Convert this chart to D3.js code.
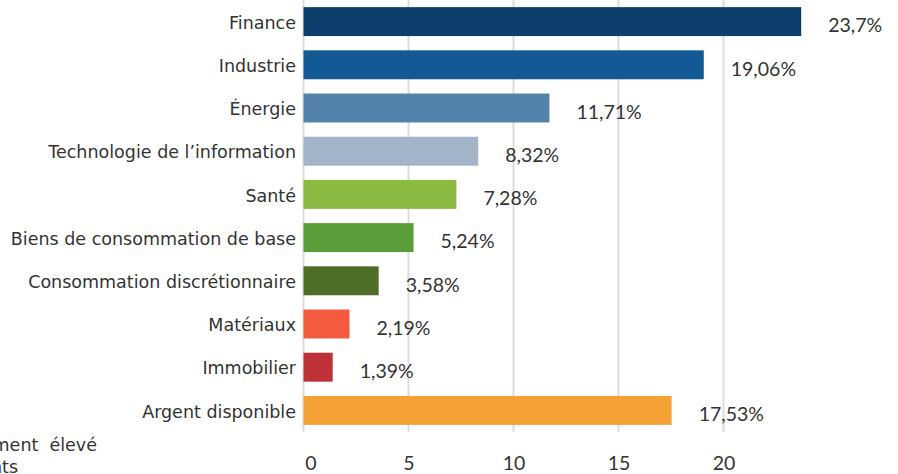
<!DOCTYPE html>
<html><head><meta charset="utf-8">
<script src="https://cdn.jsdelivr.net/npm/d3@7"></script>
<style>
html,body{margin:0;padding:0;background:#fff;overflow:hidden;}
svg{display:block;}
</style></head>
<body>
<svg id="c" width="898" height="474"></svg>
<script>
const categories = ["Finance","Industrie","Énergie","Technologie de l’information","Santé","Biens de consommation de base","Consommation discrétionnaire","Matériaux","Immobilier","Argent disponible"];
const values = [23.7,19.06,11.71,8.32,7.28,5.24,3.58,2.19,1.39,17.53];
const valueLabels = ["23,7%","19,06%","11,71%","8,32%","7,28%","5,24%","3,58%","2,19%","1,39%","17,53%"];
const colors = ["#0e3f6c","#135a94","#5383ab","#a4b4c8","#8aba42","#5a9e3a","#4e6d27","#f45a3d","#bd3137","#f4a135"];
const ticks = [0,5,10,15,20];
const footnote = ["Rendement  élevé","Composants"];

const svg = d3.select("#c");
const x = d3.scaleLinear().domain([0,20]).range([303.5,723.5]);
const y = d3.scaleBand().domain(categories).range([0,432]).paddingInner(0.33).paddingOuter(0.165);
const catFont = "Tahoma, 'DejaVu Sans', sans-serif";
const numFont = "Lato, 'Open Sans', sans-serif";

// grid
svg.append("g").selectAll("line").data(ticks).join("line")
  .attr("x1",d=>x(d)).attr("x2",d=>x(d)).attr("y1",0).attr("y2",432)
  .attr("stroke","#dcdcdc").attr("stroke-width",2);

// bars
svg.append("g").selectAll("rect").data(categories).join("rect")
  .attr("x",x(0)).attr("y",d=>y(d)).attr("height",y.bandwidth())
  .attr("width",(d,i)=>x(values[i])-x(0)).attr("fill",(d,i)=>colors[i]);

// category labels
svg.append("g").selectAll("text").data(categories).join("text")
  .attr("x",296).attr("y",d=>y(d)+y.bandwidth()/2+1).attr("dy","0.35em")
  .attr("text-anchor","end").attr("font-family",catFont).attr("font-size",17.5)
  .attr("fill","#333").text(d=>d);

// value labels
svg.append("g").selectAll("text").data(categories).join("text")
  .attr("x",(d,i)=>x(values[i])+27).attr("y",d=>y(d)+y.bandwidth()/2+4).attr("dy","0.35em")
  .attr("font-family",numFont).attr("font-size",19.5).attr("fill","#333")
  .text((d,i)=>valueLabels[i]);

// x axis
const ax = svg.append("g").attr("transform","translate(0,470)")
  .call(d3.axisBottom(x).tickValues(ticks).tickSize(0).tickPadding(0));
ax.select(".domain").remove();
ax.selectAll("text").attr("font-family",numFont).attr("font-size",19.5).attr("fill","#333").attr("dy","0")
  .attr("dx",d=>d===0?7:0);

// footnote (cut off at left as in the source)
svg.append("text").attr("x",97).attr("y",451).attr("text-anchor","end")
  .attr("font-family",catFont).attr("font-size",17.5).attr("fill","#333").attr("xml:space","preserve").text(footnote[0]);
svg.append("text").attr("x",18).attr("y",473).attr("text-anchor","end")
  .attr("font-family",catFont).attr("font-size",17.5).attr("fill","#333").text(footnote[1]);
</script>
</body></html>
